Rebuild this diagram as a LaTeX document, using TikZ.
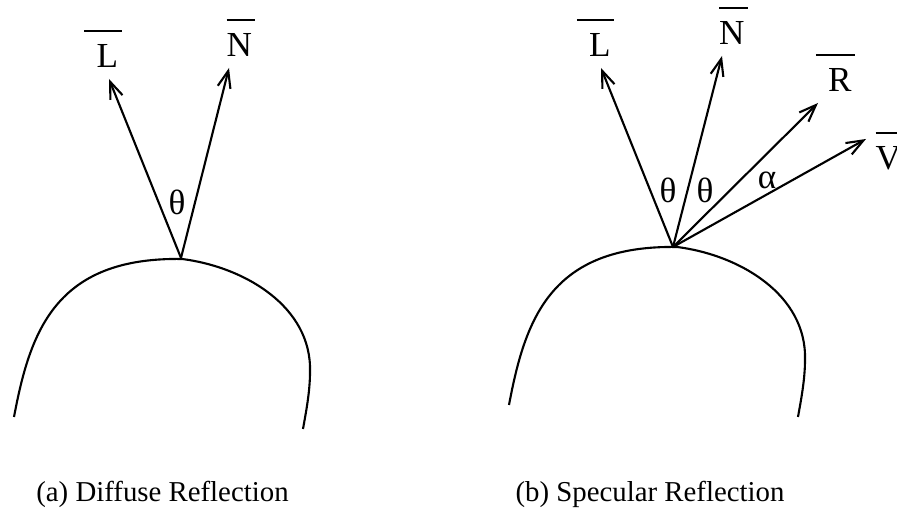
\documentclass[tikz,border=0pt]{standalone}
\usepackage{fontspec}
\setmainfont{Liberation Serif}
\usetikzlibrary{arrows.meta}
% vector name with a bar over it
\newcommand{\vbar}[2][0em]{\vbox{\hrule height 0.6pt\kern 3.3pt
  \hbox{\rule{0pt}{6.8pt}\hspace{#1}#2\hspace{0.1em}}}}

\begin{document}
\begin{tikzpicture}[
    vec/.style={-{Straight Barb[length=1.7mm, width=1.3mm]}, line width=0.6pt},
    lbl/.style={anchor=base, inner sep=0pt, font=\fontsize{10}{12}\selectfont},
    ang/.style={inner sep=0pt, font=\fontsize{10}{12}\selectfont},
    captxt/.style={anchor=base, inner sep=0pt, font=\fontsize{8.2}{10}\selectfont}]
  \clip (0,0) rectangle (8.97,5.12);

  % surfaces
  \foreach \dx/\dy in {0/0, 4.95/0.12}
    \draw[line width=0.6pt, shift={(\dx,\dy)}]
      (0.14,0.95) .. controls (0.30,1.80) and (0.55,2.55) .. (1.82,2.53)
      .. controls (2.45,2.45) and (3.12,2.05) .. (3.10,1.40)
      .. controls (3.10,1.20) and (3.06,1.00) .. (3.03,0.83);

  % (a) diffuse
  \coordinate (pa) at (1.81,2.54);
  \coordinate (la) at (1.09,4.33);
  \coordinate (na) at (2.29,4.44);
  \draw[vec] (pa) -- (la);
  \draw[vec] (pa) -- (na);
  \node[lbl] (labLa) at (1.03,4.44) {\vbar[0.35em]{L}};
  \node[lbl] (labNa) at (2.41,4.55) {\vbar{N}};
  \node[ang] (tha) at (1.77,3.10) {θ};

  % (b) specular
  \coordinate (pb) at (6.73,2.65);
  \coordinate (lb) at (6.01,4.44);
  \coordinate (nb) at (7.22,4.56);
  \coordinate (rb) at (8.18,4.09);
  \coordinate (vb) at (8.66,3.73);
  \foreach \t in {lb, nb, rb, vb}
    \draw[vec] (pb) -- (\t);
  \node[lbl] (labLb) at (5.955,4.55) {\vbar[0.35em]{L}};
  \node[lbl] (labNb) at (7.335,4.675) {\vbar{N}};
  \node[lbl] (labRb) at (8.355,4.20) {\vbar[0.35em]{R}};
  \node[lbl] (labVb) at (8.90,3.42) {\vbar{V}};
  \node[ang] (thb1) at (6.68,3.22) {θ};
  \node[ang] (thb2) at (7.05,3.22) {θ};
  \node[ang] (alb) at (7.67,3.32) {α};

  % captions
  \node[captxt] (capa) at (1.625,0.10) {(a) Diffuse Reflection};
  \node[captxt] (capb) at (6.50,0.10) {(b) Specular Reflection};
\end{tikzpicture}
\end{document}
